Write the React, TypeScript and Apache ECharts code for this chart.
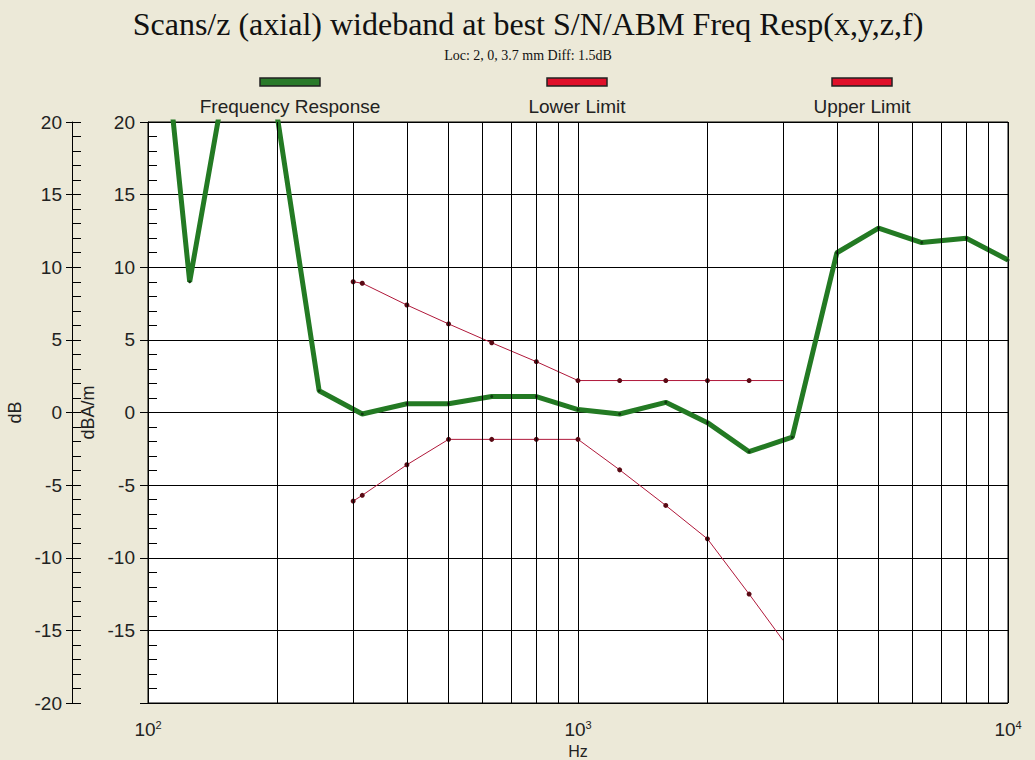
import React, { useEffect, useRef } from "react";
import * as echarts from "echarts";

// ---- data ----
const FREQS = [100, 125, 160, 200, 250, 315, 400, 500, 630, 800, 1000, 1250, 1600, 2000, 2500, 3150, 4000, 5000, 6300, 8000, 10000];
const RESPONSE = [37, 9.0, 27, 20.3, 1.5, -0.1, 0.6, 0.6, 1.1, 1.1, 0.2, -0.1, 0.7, -0.7, -2.7, -1.7, 11.0, 12.7, 11.7, 12.0, 10.5];

const LIMIT_FREQS = [300, 315, 400, 500, 630, 800, 1000, 1250, 1600, 2000, 2500, 3000];
const UPPER_LIMIT = [9.0, 8.9, 7.4, 6.1, 4.8, 3.5, 2.2, 2.2, 2.2, 2.2, 2.2, 2.2];
const LOWER_LIMIT = [-6.1, -5.7, -3.6, -1.85, -1.85, -1.85, -1.85, -3.95, -6.4, -8.7, -12.5, -15.7];

const MINOR_GRID_FREQS = [200, 300, 400, 500, 600, 700, 800, 900, 2000, 3000, 4000, 5000, 6000, 7000, 8000, 9000];

const X_MIN = 100;
const X_MAX = 10000;
const Y_MIN = -20;
const Y_MAX = 20;
const Y_STEP = 5;

const TITLE = "Scans/z (axial) wideband at best S/N/ABM Freq Resp(x,y,z,f)";
const SUBTITLE = "Loc: 2, 0, 3.7 mm Diff: 1.5dB";
const LEGEND_NAMES = ["Frequency Response", "Lower Limit", "Upper Limit"];

const SANS = "Liberation Sans, Arial, sans-serif";
const SERIF = "Liberation Serif, Times New Roman, serif";

export default function App() {
  const ref = useRef<HTMLDivElement>(null);

  useEffect(() => {
    if (!ref.current) return;
    const chart = echarts.init(ref.current, null, { renderer: "svg" });

    const pairs = (xs: number[], ys: number[]) => xs.map((x, i) => [x, ys[i]]);
    const limitData = (ys: number[]) =>
      LIMIT_FREQS.map((f, i) => ({
        value: [f, ys[i]],
        symbol: i === LIMIT_FREQS.length - 1 ? "none" : "circle",
      }));

    const tickAxisCommon = {
      type: "value",
      position: "left",
      min: Y_MIN,
      max: Y_MAX,
      interval: Y_STEP,
    };

    const option: any = {
      animation: false,
      backgroundColor: "#ECE9D8",
      grid: {
        left: 148,
        right: 27,
        top: 122,
        bottom: 57,
        containLabel: false,
        outerBoundsMode: "none",
        show: true,
        backgroundColor: "#ffffff",
        borderColor: "#000",
        borderWidth: 1,
      },
      xAxis: {
        type: "log",
        logBase: 10,
        min: X_MIN,
        max: X_MAX,
        name: "Hz",
        nameLocation: "middle",
        nameGap: 36,
        nameTextStyle: { fontFamily: SANS, fontSize: 16, color: "#222" },
        axisLine: { show: true, lineStyle: { color: "#000", width: 1 } },
        axisTick: { show: true, length: 12, lineStyle: { color: "#000" } },
        splitLine: { show: true, lineStyle: { color: "#000", width: 1 } },
        minorTick: { show: false },
        axisLabel: {
          margin: 16,
          color: "#222",
          formatter: (v: number) => `{b|10}{s|${Math.round(Math.log10(v))}}`,
          rich: {
            b: { fontFamily: SANS, fontSize: 19, color: "#222", lineHeight: 20 },
            s: { fontFamily: SANS, fontSize: 11, color: "#222", lineHeight: 11, verticalAlign: "top" },
          },
        },
      },
      yAxis: [
        {
          ...tickAxisCommon,
          offset: 0,
          name: "dBA/m",
          nameLocation: "middle",
          nameGap: 36,
          nameRotate: 90,
          nameTextStyle: { fontFamily: SANS, fontSize: 18, color: "#222" },
          axisLine: { show: true, lineStyle: { color: "#000" } },
          axisTick: { show: true, length: 8, lineStyle: { color: "#000" } },
          axisLabel: {
            margin: 13,
            fontFamily: SANS,
            fontSize: 19,
            color: "#222",
            formatter: (v: number) => (v === Y_MIN ? "" : String(v)),
          },
          splitLine: { show: true, lineStyle: { color: "#000", width: 1 } },
        },
        {
          ...tickAxisCommon,
          offset: 0,
          axisLine: { show: false },
          axisTick: { show: true, inside: true, length: 9, lineStyle: { color: "#000" } },
          minorTick: { show: true, splitNumber: 5, length: 9, lineStyle: { color: "#000" } },
          axisLabel: { show: false },
          splitLine: { show: false },
        },
        {
          ...tickAxisCommon,
          offset: 76,
          name: "dB",
          nameLocation: "middle",
          nameGap: 43,
          nameRotate: 90,
          nameTextStyle: { fontFamily: SANS, fontSize: 18, color: "#222" },
          axisLine: { show: true, lineStyle: { color: "#000" } },
          axisTick: { show: true, length: 6, lineStyle: { color: "#000" } },
          axisLabel: { margin: 10, fontFamily: SANS, fontSize: 19, color: "#222" },
          splitLine: { show: false },
        },
        {
          ...tickAxisCommon,
          offset: 76,
          axisLine: { show: false },
          axisTick: { show: true, inside: true, length: 9, lineStyle: { color: "#000" } },
          minorTick: { show: true, splitNumber: 5, length: 9, lineStyle: { color: "#000" } },
          axisLabel: { show: false },
          splitLine: { show: false },
        },
      ],
      graphic: [
        {
          type: "text",
          x: 528,
          y: 24,
          style: {
            text: TITLE,
            fontFamily: SERIF,
            fontSize: 32,
            fill: "#111",
            textAlign: "center",
            textVerticalAlign: "middle",
          },
        },
        {
          type: "text",
          x: 528,
          y: 55,
          style: {
            text: SUBTITLE,
            fontFamily: SERIF,
            fontSize: 14,
            fill: "#111",
            textAlign: "center",
            textVerticalAlign: "middle",
          },
        },
        ...[
          { cx: 290, fill: "#2a7a2a" },
          { cx: 577, fill: "#e0102a" },
          { cx: 862, fill: "#e0102a" },
        ].flatMap((s, i) => [
          {
            type: "rect",
            shape: { x: s.cx - 30, y: 78, width: 60, height: 8 },
            style: { fill: s.fill, stroke: "#222", lineWidth: 1.5 },
          },
          {
            type: "text",
            x: s.cx,
            y: 106,
            style: {
              text: LEGEND_NAMES[i],
              fontFamily: SANS,
              fontSize: 19,
              fill: "#222",
              textAlign: "center",
              textVerticalAlign: "middle",
            },
          },
        ]),
      ],
      series: [
        {
          name: "grid",
          type: "line",
          data: [],
          z: 1,
          silent: true,
          markLine: {
            silent: true,
            symbol: "none",
            label: { show: false },
            lineStyle: { color: "#000", width: 1, type: "solid" },
            data: MINOR_GRID_FREQS.map((f) => ({ xAxis: f })),
          },
        },
        {
          name: LEGEND_NAMES[1],
          type: "line",
          data: limitData(LOWER_LIMIT),
          z: 3,
          symbol: "circle",
          symbolSize: 5,
          lineStyle: { color: "#b0183a", width: 1 },
          itemStyle: { color: "#5a0a14" },
        },
        {
          name: LEGEND_NAMES[2],
          type: "line",
          data: limitData(UPPER_LIMIT),
          z: 3,
          symbol: "circle",
          symbolSize: 5,
          lineStyle: { color: "#b0183a", width: 1 },
          itemStyle: { color: "#5a0a14" },
        },
        {
          name: LEGEND_NAMES[0],
          type: "line",
          data: pairs(FREQS, RESPONSE),
          z: 4,
          clip: true,
          symbol: "circle",
          symbolSize: 3,
          lineStyle: { color: "#237a23", width: 5 },
          itemStyle: { color: "#0f3a0f" },
        },
      ],
    };

    chart.setOption(option);
    return () => chart.dispose();
  }, []);

  return (
    <div
      ref={ref}
      style={{ position: "fixed", left: 0, top: 0, width: 1035, height: 760 }}
    />
  );
}
